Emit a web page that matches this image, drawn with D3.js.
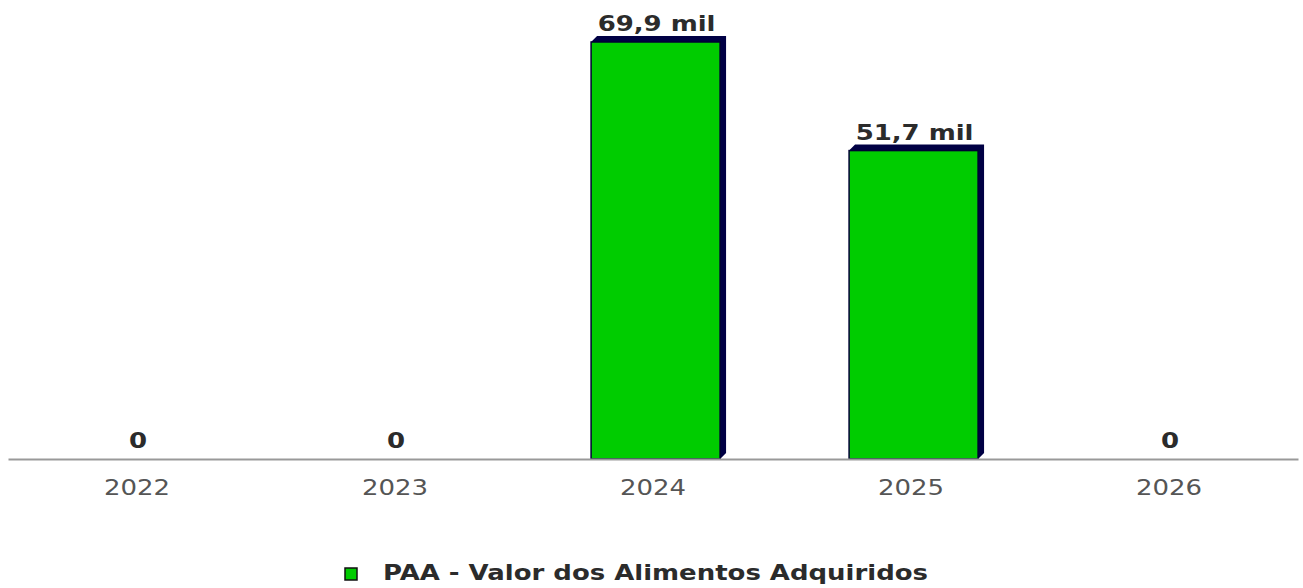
<!DOCTYPE html>
<html>
<head>
<meta charset="utf-8">
<script src="https://cdn.jsdelivr.net/npm/d3@7"></script>
<style>
  body { margin: 0; background: #fff; }
  svg { display: block; font-family: 'DejaVu Sans', sans-serif; }
</style>
</head>
<body>
<div id="chart"></div>
<script>
const years = ['2022', '2023', '2024', '2025', '2026']
const values = [0, 0, 69900, 51700, 0]
const labels = ['0', '0', '69,9 mil', '51,7 mil', '0']
const seriesName = 'PAA - Valor dos Alimentos Adquiridos'

const width = 1303
const height = 588
const base = 459
const depth = 6
const stretch = 1.18 // text in the original is drawn a bit wide

const svg = d3.select('#chart').append('svg')
  .attr('width', width)
  .attr('height', height)

const x = d3.scaleBand()
  .domain(years)
  .range([8, 1298])

const y = d3.scaleLinear()
  .domain([0, 69900])
  .range([base, 42])

const bw = x.bandwidth() * 0.5
const bx = d => x(d) + x.bandwidth() * 0.26
const shown = years.filter((d, i) => values[i] > 0)
const val = d => values[years.indexOf(d)]

// depth / shadow
svg.append('g').selectAll('path')
  .data(shown)
  .join('path')
  .attr('fill', '#000044')
  .attr('d', d => {
    let x0 = bx(d), x1 = x0 + bw, y0 = y(val(d))
    return `M${x0},${y0}L${x0 + depth},${y0 - depth}L${x1 + depth},${y0 - depth}L${x1 + depth},${base - depth}L${x1},${base}Z`
  })

svg.append('g').selectAll('rect')
  .data(shown)
  .join('rect')
  .attr('x', d => bx(d))
  .attr('y', d => y(val(d)))
  .attr('width', bw)
  .attr('height', d => base - y(val(d)))
  .attr('fill', '#00cc00')
  .attr('stroke', '#000033')
  .attr('stroke-width', 1.5)

// value labels
svg.append('g').selectAll('text')
  .data(years)
  .join('text')
  .attr('transform', (d, i) => {
    let cx = values[i] > 0 ? bx(d) + bw / 2 + 1 : x(d) + x.bandwidth() / 2 + 1
    return `translate(${cx},${y(values[i]) - 11}) scale(${stretch},1)`
  })
  .attr('text-anchor', 'middle')
  .attr('font-size', 22)
  .attr('font-weight', 'bold')
  .attr('fill', '#2b2b2b')
  .text((d, i) => labels[i])

// axis
const axis = svg.append('g')
  .attr('transform', `translate(0,${base})`)
  .call(d3.axisBottom(x).tickSize(0).tickPadding(20))
axis.select('.domain').attr('stroke', '#999').attr('stroke-width', 2)
axis.selectAll('text')
  .attr('font-family', 'DejaVu Sans')
  .attr('font-size', 22)
  .attr('fill', '#555')
  .attr('dy', '0.71em')
  .attr('transform', `scale(${stretch},1)`)

// legend
const legend = svg.append('g').attr('transform', 'translate(345,568)')
legend.append('rect')
  .attr('width', 12)
  .attr('height', 12)
  .attr('fill', '#00cc00')
  .attr('stroke', '#111')
  .attr('stroke-width', 1.5)
legend.append('text')
  .attr('transform', `translate(38,12) scale(${stretch},1)`)
  .attr('font-size', 22)
  .attr('font-weight', 'bold')
  .attr('fill', '#2b2b2b')
  .text(seriesName)
</script>
</body>
</html>
